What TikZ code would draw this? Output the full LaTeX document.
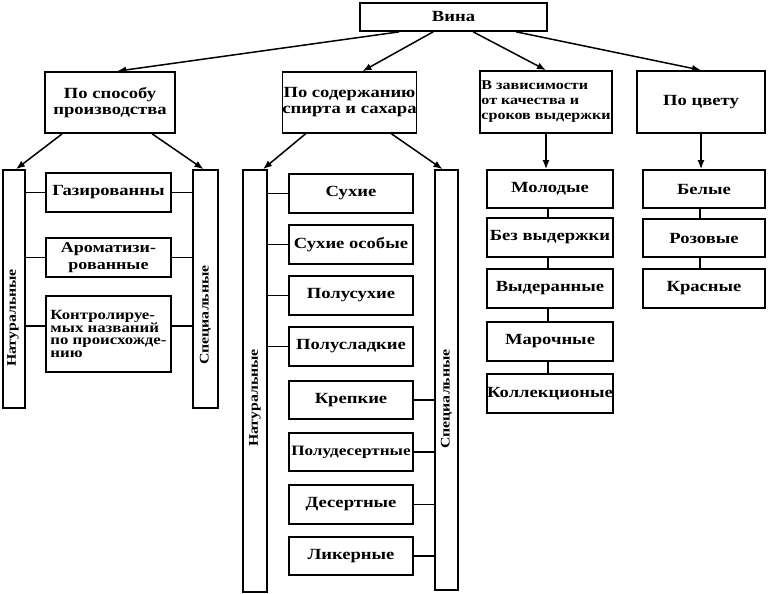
\documentclass[tikz,border=0pt]{standalone}
\usepackage{fontspec}
\setmainfont{Liberation Serif}[FakeStretch=1.2]
\usetikzlibrary{arrows.meta}
\begin{document}
\begin{tikzpicture}[x=1pt,y=-1pt,
  box/.style={draw, line width=1.7pt, inner sep=1pt, align=center,
    font=\bfseries\fontsize{15.5}{16}\selectfont},
  hbox/.style={box, font=\bfseries\fontsize{15.5}{16}\selectfont},
  bar/.style={draw, line width=1.7pt, inner sep=0pt},
  vt/.style={font=\bfseries\fontsize{13.2}{14}\selectfont, rotate=90, inner sep=0pt},
  arr/.style={-{Latex[length=9pt,width=7pt]}, line width=1.5pt},
  link/.style={line width=1.5pt}]
\useasboundingbox (0,0) rectangle (768,594);
\fill[white] (0,0) rectangle (768,594);

% top
\node[box, minimum width=187pt, minimum height=28pt] (vina) at (453.5,17) {Вина};

% level 1
\node[hbox, minimum width=130pt, minimum height=61pt] (sp) at (110,102.5) {По способу\\производства};
\node[hbox, minimum width=131pt, minimum height=61pt, inner sep=0pt] (sod) at (349.5,102.5) {По содержанию\\спирта и сахара};
\node[box, minimum width=132pt, minimum height=62pt, align=left,
  font=\bfseries\fontsize{13.4}{15}\selectfont] (zav) at (546,102) {В зависимости\\от качества и\\сроков выдержки};
\node[hbox, minimum width=128pt, minimum height=62pt] (cv) at (701,102) {По цвету};

% column 1
\node[bar, minimum width=22pt, minimum height=238pt] (nat1) at (14,289) {};
\node[vt] (nat1t) at (13,318) {Натуральные};
\node[bar, minimum width=25pt, minimum height=238pt] (spc1) at (205.5,289) {};
\node[vt] (spc1t) at (205.5,315) {Специальные};

\node[box, minimum width=125pt, minimum height=39pt] (g1) at (108.5,192.5) {Газированны};
\node[box, minimum width=125pt, minimum height=39pt, font=\bfseries\fontsize{15}{17}\selectfont] (g2) at (108.5,257.5) {Ароматизи-\\рованные};
\node[box, minimum width=125pt, minimum height=76pt, align=left, inner sep=2pt,
  font=\bfseries\fontsize{14}{12.8}\selectfont] (g3) at (108.5,334) {Контролируе-\\мых названий\\по происхожде-\\нию};

% column 2
\node[bar, minimum width=24pt, minimum height=422pt] (nat2) at (255,381) {};
\node[vt] (nat2t) at (255,398) {Натуральные};
\node[bar, minimum width=23pt, minimum height=420pt] (spc2) at (446.5,380) {};
\node[vt] (spc2t) at (446.5,399) {Специальные};

\node[box, minimum width=124pt, minimum height=39pt] (c1) at (351,193.5) {Сухие};
\node[box, minimum width=124pt, minimum height=39pt] (c2) at (351,244.5) {Сухие особые};
\node[box, minimum width=124pt, minimum height=39pt] (c3) at (351,295.5) {Полусухие};
\node[box, minimum width=124pt, minimum height=39pt] (c4) at (351,346.5) {Полусладкие};
\node[box, minimum width=124pt, minimum height=38pt] (c5) at (351,400) {Крепкие};
\node[box, minimum width=124pt, minimum height=38pt, inner sep=0pt,
  font=\bfseries\fontsize{14.3}{16}\selectfont] (c6) at (351,452) {Полудесертные};
\node[box, minimum width=124pt, minimum height=39pt] (c7) at (351,504.5) {Десертные};
\node[box, minimum width=124pt, minimum height=38pt] (c8) at (351,556) {Ликерные};

% column 3
\node[box, minimum width=126pt, minimum height=38pt] (m1) at (550,189) {Молодые};
\node[box, minimum width=126pt, minimum height=39pt] (m2) at (550,237.5) {Без выдержки};
\node[box, minimum width=126pt, minimum height=39pt] (m3) at (550,288.5) {Выдеранные};
\node[box, minimum width=126pt, minimum height=39pt] (m4) at (550,341.5) {Марочные};
\node[box, minimum width=126pt, minimum height=39pt, inner sep=0pt] (m5) at (550,393.5) {Коллекционые};

% column 4
\node[box, minimum width=122pt, minimum height=38pt] (w1) at (704,189) {Белые};
\node[box, minimum width=122pt, minimum height=38pt] (w2) at (704,238) {Розовые};
\node[box, minimum width=122pt, minimum height=39pt] (w3) at (704,288.5) {Красные};

% arrows from top
\draw[arr] ([xshift=40pt]vina.south west) -- ([xshift=73pt]sp.north west);
\draw[arr] ([xshift=74pt]vina.south west) -- ([xshift=81pt]sod.north west);
\draw[arr] ([xshift=114pt]vina.south west) -- (zav.north);
\draw[arr] ([xshift=157pt]vina.south west) -- (cv.north);

% level 1 to bars
\draw[arr] ([xshift=18pt]sp.south west) -- ([xshift=2pt]nat1.north);
\draw[arr] ([xshift=108pt]sp.south west) -- ([xshift=-2pt]spc1.north);
\draw[arr] ([xshift=24pt]sod.south west) -- ([xshift=8pt]nat2.north);
\draw[arr] ([xshift=110pt]sod.south west) -- ([xshift=-4pt]spc2.north);
\draw[arr] (zav.south) -- (zav.south |- m1.north);
\draw[arr] (cv.south) -- (cv.south |- w1.north);

% column 1 links
\foreach \b/\d in {g1/0pt, g2/0pt, g3/8pt}{
  \draw[link] ([yshift=\d]\b.west) -- ([yshift=\d]\b.west -| nat1.east);
  \draw[link] ([yshift=\d]\b.east) -- ([yshift=\d]\b.east -| spc1.west);
}
% column 2 links
\foreach \b in {c1,c2,c3,c4}{
  \draw[link] (\b.west) -- (\b.west -| nat2.east);
}
\foreach \b in {c5,c6,c7,c8}{
  \draw[link] (\b.east) -- (\b.east -| spc2.west);
}
% column 3 and 4 chains
\draw[link] ([xshift=-2pt]m1.south) -- ([xshift=-2pt]m2.north);
\draw[link] ([xshift=-2pt]m2.south) -- ([xshift=-2pt]m3.north);
\draw[link] ([xshift=-2pt]m3.south) -- ([xshift=-2pt]m4.north);
\draw[link] ([xshift=-2pt]m4.south) -- ([xshift=-2pt]m5.north);
\draw[link] ([xshift=-4pt]w1.south) -- ([xshift=-4pt]w2.north);
\draw[link] ([xshift=-4pt]w2.south) -- ([xshift=-4pt]w3.north);
\end{tikzpicture}
\end{document}
